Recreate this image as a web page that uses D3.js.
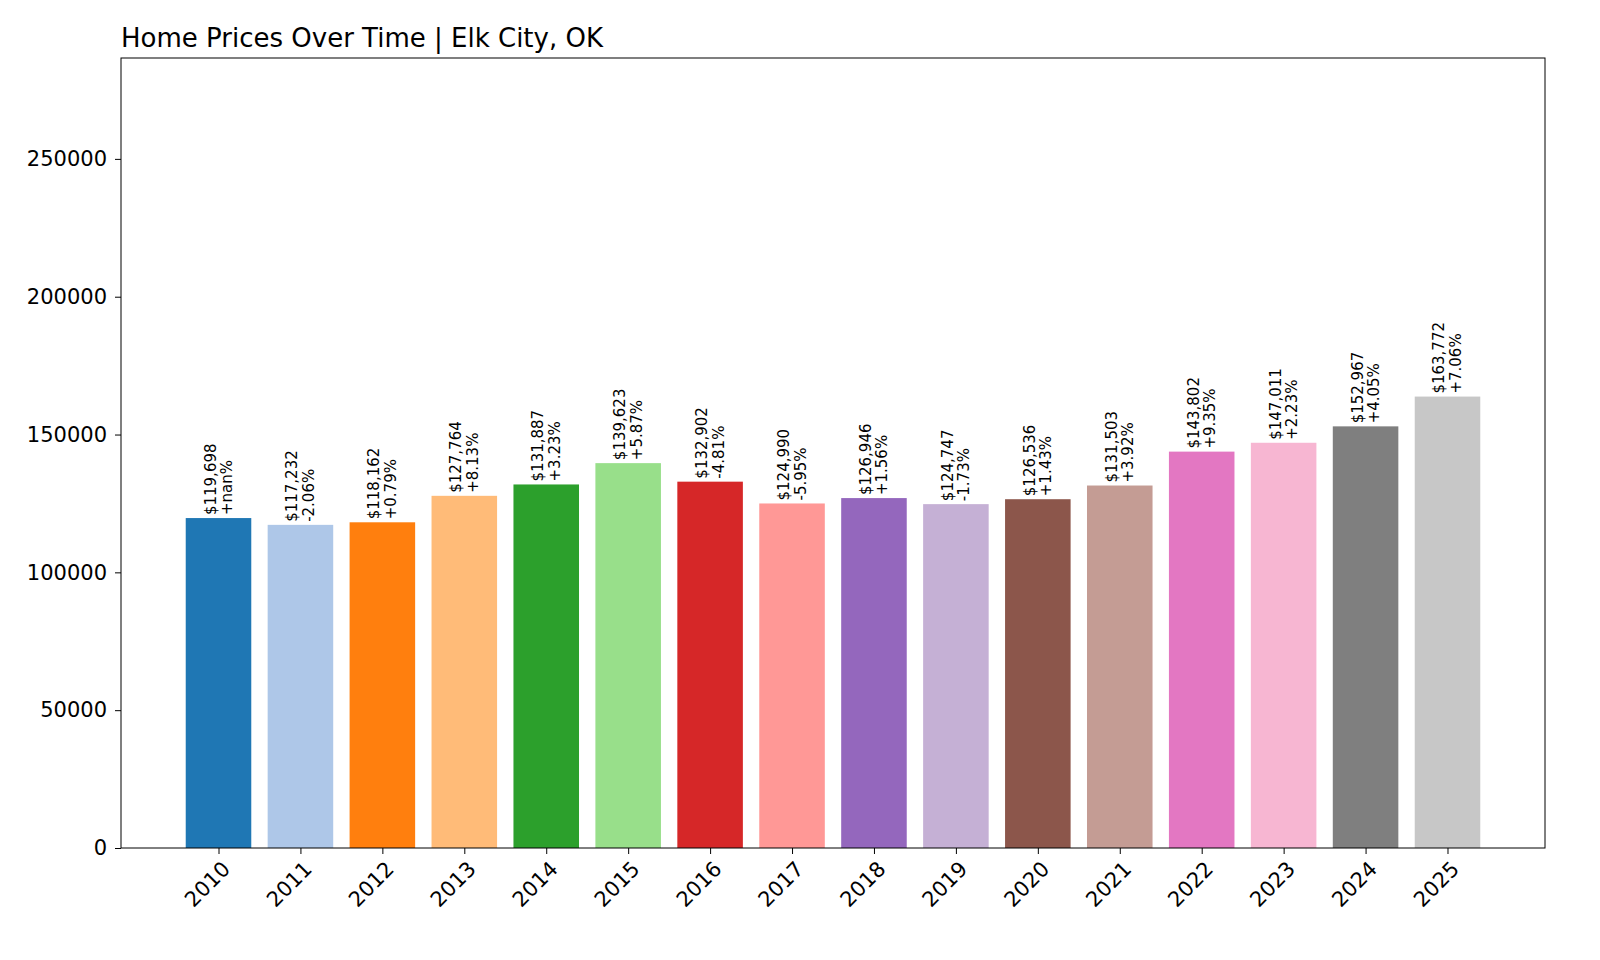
<!DOCTYPE html>
<html><head><meta charset="utf-8">
<script src="https://cdn.jsdelivr.net/npm/d3@7"></script>
<style>body{margin:0;background:#fff;font-family:"DejaVu Sans",sans-serif}</style>
</head><body><svg id="c" width="1600" height="960"></svg>
<script>
const years=["2010","2011","2012","2013","2014","2015","2016","2017","2018","2019","2020","2021","2022","2023","2024","2025"];
const prices=[119698,117232,118162,127764,131887,139623,132902,124990,126946,124747,126536,131503,143802,147011,152967,163772];
const changes=["+nan%","-2.06%","+0.79%","+8.13%","+3.23%","+5.87%","-4.81%","-5.95%","+1.56%","-1.73%","+1.43%","+3.92%","+9.35%","+2.23%","+4.05%","+7.06%"];
const yTicks=[0,50000,100000,150000,200000,250000];
const colors=["#1f77b4","#aec7e8","#ff7f0e","#ffbb78","#2ca02c","#98df8a","#d62728","#ff9896","#9467bd","#c5b0d5","#8c564b","#c49c94","#e377c2","#f7b6d2","#7f7f7f","#c7c7c7"];
const L=121,R=1545,T=58,B=848;
const svg=d3.select("#c");
const n=years.length;
const x=d3.scaleLinear().domain([-0.4-0.05*(n-0.2),n-1+0.4+0.05*(n-0.2)]).range([L,R]);
const y=d3.scaleLinear().domain([0,d3.max(prices)*1.75]).range([B,T]);
svg.append("g").selectAll("rect").data(prices).join("rect")
 .attr("x",(d,i)=>x(i-0.4)).attr("width",(d,i)=>x(i+0.4)-x(i-0.4))
 .attr("y",d=>y(d)).attr("height",d=>B-y(d)).attr("fill",(d,i)=>colors[i]);
const lab=svg.append("g").selectAll("text").data(prices).join("text")
 .attr("transform",(d,i)=>`translate(${x(i)},${y(d)-3}) rotate(-90)`)
 .attr("font-size",15).attr("fill","#000");
lab.append("tspan").attr("x",0).attr("dy","-0.2em").text(d=>"$"+d3.format(",")(d));
lab.append("tspan").attr("x",0).attr("dy","1.1em").text((d,i)=>changes[i]);
svg.append("rect").attr("x",L).attr("y",T).attr("width",R-L).attr("height",B-T).attr("fill","none").attr("stroke","#000");
const ya=svg.append("g").attr("transform",`translate(${L},0)`).call(d3.axisLeft(y).tickValues(yTicks).tickFormat(d=>d).tickSize(6).tickPadding(8));
ya.select(".domain").remove();
ya.selectAll("text").attr("font-size",21).attr("font-family","DejaVu Sans").attr("fill","#000");
const xa=svg.append("g").attr("transform",`translate(0,${B})`).call(d3.axisBottom(x).tickValues(d3.range(n)).tickFormat(i=>years[i]).tickSize(6));
xa.select(".domain").remove();
xa.selectAll("text").attr("font-size",21).attr("font-family","DejaVu Sans").attr("fill","#000")
 .attr("text-anchor","end").attr("dy",0).attr("transform","translate(6,16) rotate(-45)");
svg.append("text").attr("x",L).attr("y",T-11).attr("font-size",26).text("Home Prices Over Time | Elk City, OK");
</script></body></html>
